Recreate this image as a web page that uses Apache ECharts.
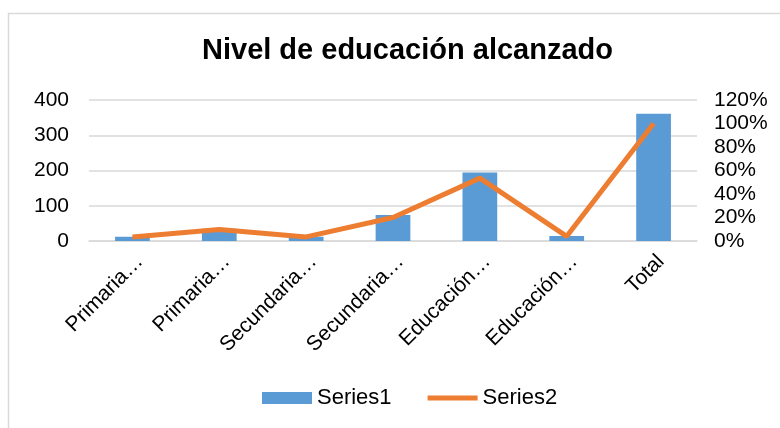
<!DOCTYPE html>
<html>
<head>
<meta charset="utf-8">
<script src="https://cdn.jsdelivr.net/npm/echarts@6/dist/echarts.min.js"></script>
<style>
  html, body { margin: 0; padding: 0; background: #fff; }
  #chart { width: 780px; height: 428px; }
</style>
</head>
<body>
<div id="chart"></div>
<script>
// categories and values
const categories = [
  'Primaria incompleta',
  'Primaria completa',
  'Secundaria incompleta',
  'Secundaria completa',
  'Educación superior incompleta',
  'Educación superior completa',
  'Total'
]
const series1 = [12, 35, 12, 74, 194, 14, 361]
const series2 = [0.035, 0.097, 0.035, 0.20, 0.535, 0.04, 1.0]

const font = 'Liberation Sans, Arial, sans-serif'
const textColor = '#000'

const chart = echarts.init(document.getElementById('chart'))

chart.setOption({
  animation: false,
  textStyle: { fontFamily: font },
  title: {
    text: 'Nivel de educación alcanzado',
    left: 197,
    top: 31,
    textStyle: { fontFamily: font, fontSize: 29, fontWeight: 'bold', color: textColor }
  },
  graphic: [{
    type: 'rect',
    shape: { x: 8.5, y: 13.5, width: 800, height: 440 },
    style: { fill: 'none', stroke: '#d9d9d9', lineWidth: 1.5 },
    silent: true
  }],
  legend: {
    bottom: 14,
    left: 257,
    itemGap: 36,
    itemWidth: 50,
    itemHeight: 12,
    textStyle: { fontFamily: font, fontSize: 22, color: textColor },
    data: [
      { name: 'Series1', icon: 'rect' },
      { name: 'Series2', icon: 'path://M0,0 L50,0 L50,5 L0,5 Z' }
    ]
  },
  grid: { left: 89, right: 83, top: 100, bottom: 187 },
  xAxis: {
    type: 'category',
    data: categories,
    axisTick: { show: false },
    axisLine: { lineStyle: { color: '#d9d9d9', width: 1.5 } },
    axisLabel: {
      interval: 0,
      rotate: 45,
      margin: 10,
      verticalAlign: 'top',
      fontSize: 21,
      color: textColor,
      formatter: (v) => v.indexOf(' ') > -1 ? v.split(' ')[0] + '…' : v
    }
  },
  yAxis: [
    {
      type: 'value',
      min: 0,
      max: 400,
      interval: 100,
      axisLine: { show: false },
      axisTick: { show: false },
      splitLine: { lineStyle: { color: '#d9d9d9', width: 1.5 } },
      axisLabel: { fontSize: 21, color: textColor, margin: 20 }
    },
    {
      type: 'value',
      min: 0,
      max: 1.2,
      interval: 0.2,
      axisLine: { show: false },
      axisTick: { show: false },
      splitLine: { show: false },
      axisLabel: {
        fontSize: 21,
        color: textColor,
        margin: 17,
        formatter: (v) => Math.round(v * 100) + '%'
      }
    }
  ],
  series: [
    {
      name: 'Series1',
      type: 'bar',
      data: series1,
      barWidth: '40%',
      itemStyle: { color: '#5b9bd5' }
    },
    {
      name: 'Series2',
      type: 'line',
      yAxisIndex: 1,
      data: series2,
      showSymbol: false,
      symbol: 'none',
      itemStyle: { color: '#ed7d31' },
      lineStyle: { color: '#ed7d31', width: 5 }
    }
  ]
})
</script>
</body>
</html>
